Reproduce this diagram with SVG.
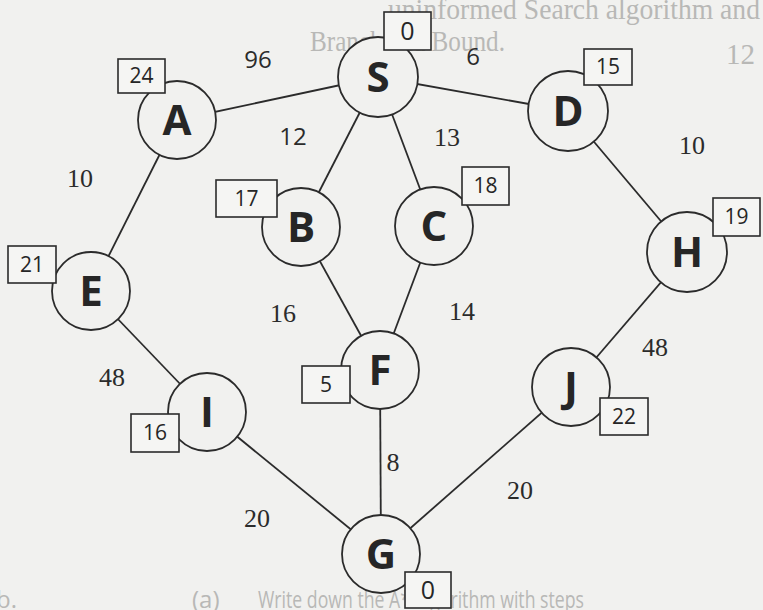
<svg xmlns="http://www.w3.org/2000/svg" width="763" height="610" viewBox="0 0 763 610">
<style>
.bg{fill:#f1f1ef}
.edge{stroke:#2b2b2b;stroke-width:1.8;fill:none}
.node{fill:#f1f1ef;stroke:#2b2b2b;stroke-width:1.8}
.box{fill:#f5f5f3;stroke:#2b2b2b;stroke-width:1.6}
.lbl{font-family:"Open Sans","Noto Sans",sans-serif;font-weight:700;font-size:42px;fill:#262626;text-anchor:middle}
.h{font-family:"Open Sans","Noto Sans",sans-serif;font-size:21px;fill:#262626;text-anchor:middle}
.h0{font-family:"Open Sans","Noto Sans",sans-serif;font-size:25px;fill:#262626;text-anchor:middle}
.ws{font-family:"Open Sans","Noto Sans",sans-serif;font-size:24px;fill:#2b2b2b;text-anchor:middle}
.wr{font-family:"Liberation Serif","DejaVu Serif",serif;font-size:26px;fill:#2b2b2b;text-anchor:middle}
.ghost{fill:#b8b8b6;font-family:"Liberation Serif",serif;font-size:29px}
.ghostsans{fill:#b8b8b6;font-family:"Open Sans","Liberation Sans",sans-serif;font-size:24px}
</style>
<rect class="bg" x="0" y="0" width="763" height="610"/>
<g id="background-text">
<text class="ghost" x="388" y="19" textLength="372" lengthAdjust="spacingAndGlyphs">uninformed Search algorithm and</text>
<text class="ghost" x="310" y="51" textLength="195" lengthAdjust="spacingAndGlyphs">Branch and Bound.</text>
<text class="ghost" x="726" y="64">12</text>
<text class="ghostsans" x="-4" y="608">b.</text>
<text class="ghostsans" x="192" y="608">(a)</text>
<text class="ghostsans" x="258" y="608" textLength="326" lengthAdjust="spacingAndGlyphs">Write down the A* Algorithm with steps</text>
</g>
<g id="connectors">
<line class="edge" x1="378" y1="77" x2="177" y2="120"/>
<line class="edge" x1="378" y1="77" x2="568" y2="111"/>
<line class="edge" x1="378" y1="77" x2="301" y2="227"/>
<line class="edge" x1="378" y1="77" x2="434" y2="226"/>
<line class="edge" x1="177" y1="120" x2="91" y2="291"/>
<line class="edge" x1="568" y1="111" x2="687" y2="252"/>
<line class="edge" x1="301" y1="227" x2="380" y2="370"/>
<line class="edge" x1="434" y1="226" x2="380" y2="370"/>
<line class="edge" x1="91" y1="291" x2="207" y2="412"/>
<line class="edge" x1="687" y1="252" x2="571" y2="387"/>
<line class="edge" x1="380" y1="370" x2="381" y2="554"/>
<line class="edge" x1="207" y1="412" x2="381" y2="554"/>
<line class="edge" x1="571" y1="387" x2="381" y2="554"/>
<text class="ws" x="258" y="68">96</text>
<text class="ws" x="473" y="65">6</text>
<text class="ws" x="293" y="145">12</text>
<text class="wr" x="447" y="146">13</text>
<text class="wr" x="80" y="187">10</text>
<text class="wr" x="692" y="154">10</text>
<text class="wr" x="283" y="322">16</text>
<text class="wr" x="462" y="320">14</text>
<text class="wr" x="112" y="386">48</text>
<text class="wr" x="655" y="356">48</text>
<text class="wr" x="393" y="471">8</text>
<text class="wr" x="520" y="499">20</text>
<text class="wr" x="257" y="527">20</text>
</g>
<g id="node-S"><circle class="node" cx="378" cy="77" r="40"/><rect class="box" x="384" y="12" width="47" height="38"/><text class="h0" x="407.5" y="40">0</text><text class="lbl" x="378" y="92">S</text></g>
<g id="node-A"><circle class="node" cx="177" cy="120" r="39"/><rect class="box" x="118" y="59" width="47" height="34"/><text class="h" x="141.5" y="83">24</text><text class="lbl" x="177" y="135">A</text></g>
<g id="node-D"><circle class="node" cx="568" cy="111" r="40"/><rect class="box" x="584" y="49" width="48" height="36"/><text class="h" x="608" y="74">15</text><text class="lbl" x="568" y="126">D</text></g>
<g id="node-B"><circle class="node" cx="301" cy="227" r="39"/><rect class="box" x="216" y="180" width="61" height="37"/><text class="h" x="246.5" y="206">17</text><text class="lbl" x="301" y="242">B</text></g>
<g id="node-C"><circle class="node" cx="434" cy="226" r="39"/><rect class="box" x="462" y="167" width="47" height="38"/><text class="h" x="485.5" y="193">18</text><text class="lbl" x="434" y="241">C</text></g>
<g id="node-H"><circle class="node" cx="687" cy="252" r="40"/><rect class="box" x="713" y="198" width="47" height="38"/><text class="h" x="736.5" y="224">19</text><text class="lbl" x="687" y="267">H</text></g>
<g id="node-E"><circle class="node" cx="91" cy="291" r="39"/><rect class="box" x="8" y="246" width="48" height="37"/><text class="h" x="32" y="272">21</text><text class="lbl" x="91" y="306">E</text></g>
<g id="node-F"><circle class="node" cx="380" cy="370" r="39"/><rect class="box" x="302" y="366" width="48" height="37"/><text class="h" x="326" y="392">5</text><text class="lbl" x="380" y="385">F</text></g>
<g id="node-J"><circle class="node" cx="571" cy="387" r="39"/><rect class="box" x="600" y="398" width="48" height="37"/><text class="h" x="624" y="424">22</text><text class="lbl" x="571" y="402">J</text></g>
<g id="node-I"><circle class="node" cx="207" cy="412" r="39"/><rect class="box" x="131" y="414" width="48" height="38"/><text class="h" x="155" y="440">16</text><text class="lbl" x="207" y="427">I</text></g>
<g id="node-G"><circle class="node" cx="381" cy="554" r="39"/><rect class="box" x="405" y="572" width="46" height="36"/><text class="h0" x="428" y="599">0</text><text class="lbl" x="381" y="569">G</text></g>
</svg>
